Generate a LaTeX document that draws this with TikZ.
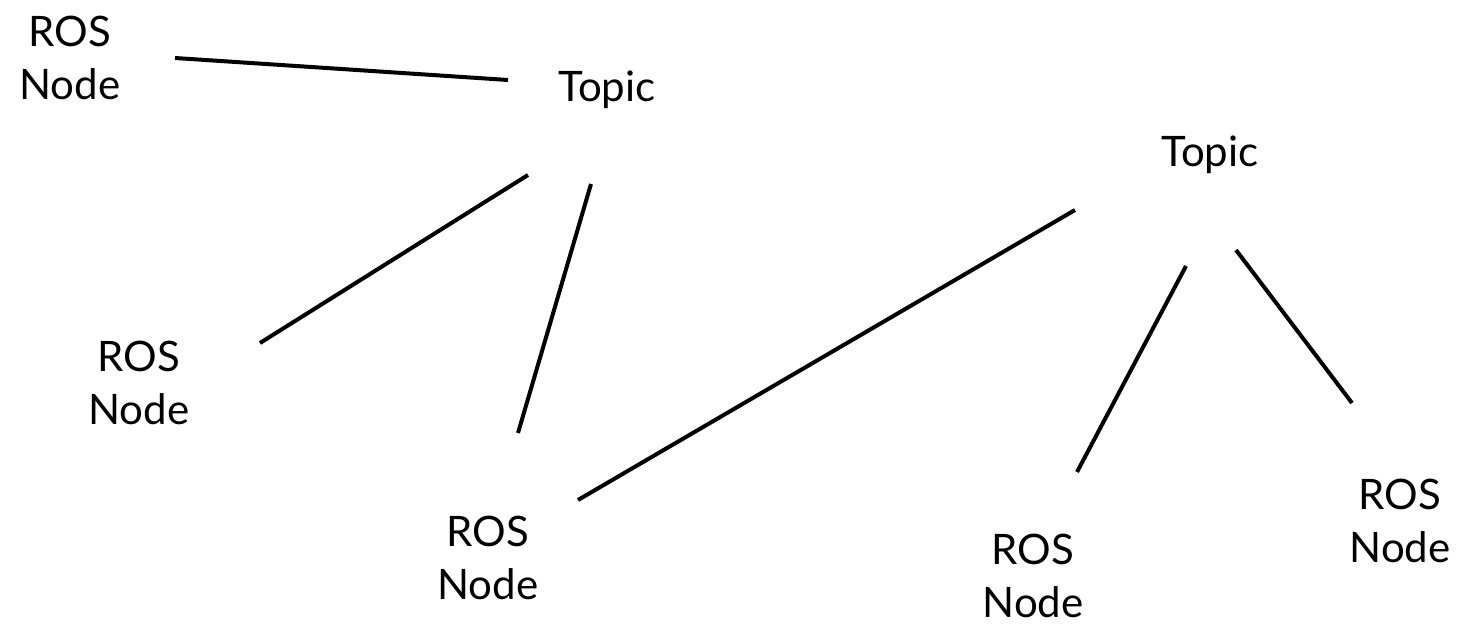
\documentclass[tikz,border=0pt]{standalone}
\usepackage{fontspec}
\setmainfont{Lato}
\usepackage{xcolor}

\begin{document}
\begin{tikzpicture}[x=0.5pt, y=-0.5pt]
\tikzset{ros/.style={align=center, font=\fontsize{21}{26.5}\selectfont, inner sep=0pt},
         link/.style={line width=2pt}}
\useasboundingbox (0,0) rectangle (1462,630);
\draw node(n1)[ros] at (70,58) {ROS\\Node};
\draw node(t1)[ros] at (607,90) {Topic};
\draw node(t2)[ros] at (1210,155) {Topic};
\draw node(n2)[ros] at (139,383) {ROS\\Node};
\draw node(n3)[ros] at (488,558) {ROS\\Node};
\draw node(n4)[ros] at (1033,576) {ROS\\Node};
\draw node(n5)[ros] at (1400,521) {ROS\\Node};
\draw[link] ([shift={(105,0)}]n1.center) -- ([shift={(-99,-10)}]t1.center);
\draw[link] ([shift={(-79,85)}]t1.center) -- ([shift={(121,-40)}]n2.center);
\draw[link] ([shift={(-16,94)}]t1.center) -- ([shift={(30,-125)}]n3.center);
\draw[link] ([shift={(90,-58)}]n3.center) -- ([shift={(-135,55)}]t2.center);
\draw[link] ([shift={(-24,111)}]t2.center) -- ([shift={(44,-104)}]n4.center);
\draw[link] ([shift={(26,95)}]t2.center) -- ([shift={(-48,-118)}]n5.center);
\end{tikzpicture}
\end{document}
